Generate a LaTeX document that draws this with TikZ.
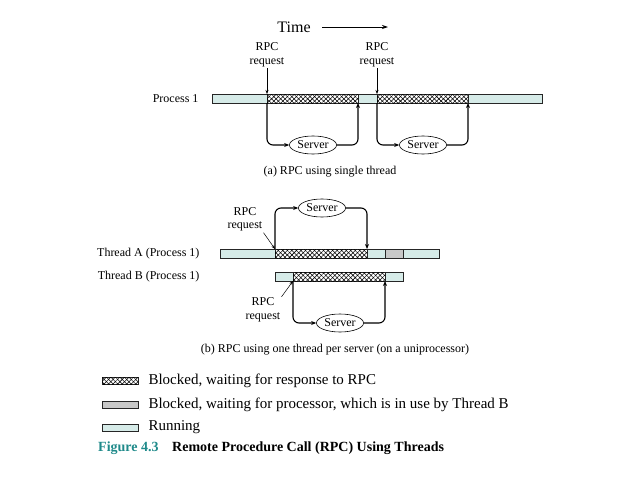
\documentclass[tikz,border=0pt]{standalone}
\usepackage{fontspec}
\setmainfont{Liberation Serif}
\usepackage{tikz}
\usetikzlibrary{shapes.geometric,arrows.meta,patterns.meta,positioning}
\definecolor{runcol}{RGB}{214,235,232}
\definecolor{waitcol}{RGB}{200,200,200}
\definecolor{figcol}{RGB}{31,138,138}

\begin{document}
\begin{tikzpicture}[x=1pt, y=-1pt, font=\fontsize{12}{13.5}\selectfont,
  seg/.style={draw=black!85, line width=0.7pt, inner sep=0pt, outer sep=0pt, minimum height=9pt},
  running/.style={seg, fill=runcol},
  waiting/.style={seg, fill=waitcol},
  blocked/.style={seg, fill=white,
    postaction={pattern={Lines[angle=45,distance=3.2pt,line width=0.55pt]}},
    postaction={pattern={Lines[angle=-45,distance=3.2pt,line width=0.55pt]}}},
  server/.style={draw, ellipse, line width=0.6pt, inner sep=1pt, minimum width=45pt, minimum height=18pt},
  call/.style={-{Stealth[length=5pt,width=4pt]}, line width=1.1pt, rounded corners=6pt},
  pointer/.style={-{Stealth[length=4pt,width=3pt]}, line width=0.5pt},
  req/.style={align=center, inner sep=1pt}]
\useasboundingbox (0,0) rectangle (627,479);

% (a) single thread
\node (time) at (294,27) {\fontsize{16}{18}\selectfont Time};
\coordinate (timeend) at (388,27);
\draw[-{Stealth[length=6pt,width=4pt]}, line width=0.8pt] ([xshift=8pt]time.east) -- (timeend);

\node[running, minimum width=330pt] (p1) at (377,98.5) {};
\node[blocked, minimum width=91pt] (blk1) at (312.5,98.5) {};
\node[blocked, minimum width=91pt] (blk2) at (422.5,98.5) {};
\node[left=10pt of p1] {Process 1};

\node[req] (req1) at (267,55) {RPC\\request};
\node[req] (req2) at (377,55) {RPC\\request};
\draw[pointer] (req1) -- (blk1.north west);
\draw[pointer] (req2) -- (blk2.north west);

\node[server] (srv1) at (313,145) {Server};
\node[server] (srv2) at (423,145) {Server};
\draw[call] (blk1.south west) |- (srv1.west);
\draw[call] (srv1.east) -| (blk1.south east);
\draw[call] (blk2.south west) |- (srv2.west);
\draw[call] (srv2.east) -| (blk2.south east);

\node (capa) at (330,172) {(a) RPC using single thread};

% (b) one thread per server
\node[running, minimum width=219pt] (thA) at (329.5,253.5) {};
\node[blocked, minimum width=92pt] (blkA) at (321,253.5) {};
\node[waiting, minimum width=18pt] (waitA) at (394,253.5) {};
\node[running, minimum width=128pt] (thB) at (339,276.5) {};
\node[blocked, minimum width=92pt] (blkB) at (339,276.5) {};
\node[anchor=east] (labA) at (203,253.5) {Thread A (Process 1)};
\node[anchor=east] (labB) at (203,276.5) {Thread B (Process 1)};

\node[server, minimum width=43pt] (srvA) at (322,208) {Server};
\draw[call] (blkA.north west) |- (srvA.west);
\draw[call] (srvA.east) -| (blkA.north east);
\node[req] (reqA) at (245,219.5) {RPC\\request};
\draw[pointer] (reqA.south east) -- (blkA.north west);

\node[server, minimum width=43pt] (srvB) at (340,323) {Server};
\draw[call] (blkB.south west) |- (srvB.west);
\draw[call] (srvB.east) -| (blkB.south east);
\node[req] (reqB) at (263,310) {RPC\\request};
\draw[pointer] (reqB.north east) -- (blkB.south west);

\node (capb) at (335,350) {(b) RPC using one thread per server (on a uniprocessor)};

% legend
\begin{scope}[font=\fontsize{15}{17}\selectfont]
\node[blocked, minimum width=36pt, minimum height=7pt] (keyblk) at (120,380.5) {};
\node[waiting, minimum width=36pt, minimum height=7pt] (keywait) at (120,404.5) {};
\node[running, minimum width=36pt, minimum height=7pt] (keyrun) at (120,427.5) {};
\node[right=7pt of keyblk] {Blocked, waiting for response to RPC};
\node[right=7pt of keywait] {Blocked, waiting for processor, which is in use by Thread B};
\node[right=7pt of keyrun] {Running};
\node[anchor=west, inner sep=0pt, text=figcol, font=\fontsize{14}{16}\selectfont\bfseries] (fig) at (98,448) {Figure 4.3};
\node[anchor=west, inner sep=0pt, font=\fontsize{14}{16}\selectfont\bfseries] at (172,448) {Remote Procedure Call (RPC) Using Threads};
\end{scope}
\end{tikzpicture}
\end{document}
